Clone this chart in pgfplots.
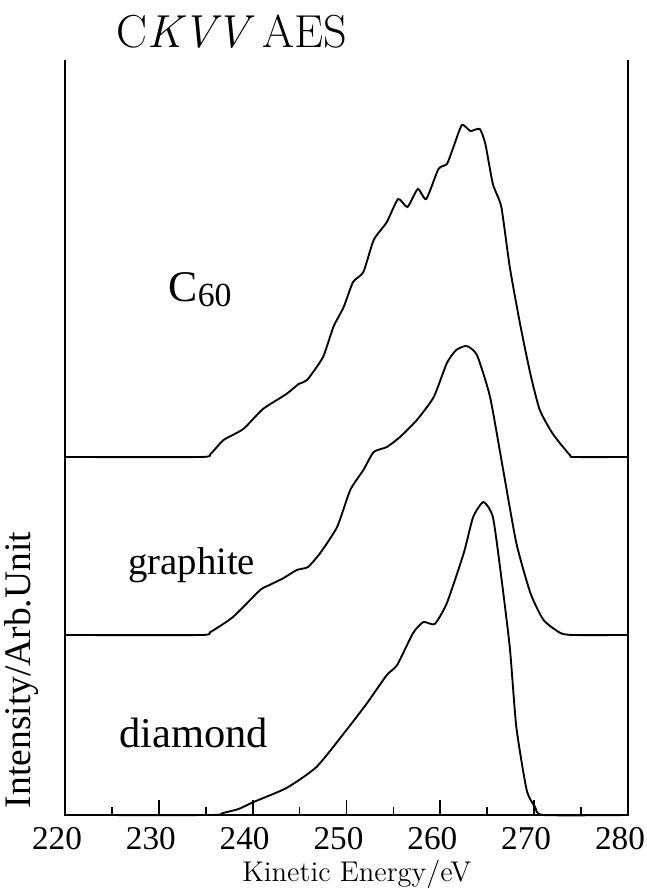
\documentclass[border=0pt]{standalone}
\usepackage{fontspec}
\usepackage{pgfplots}
\pgfplotsset{compat=1.18}
\newfontfamily\tms{Liberation Serif}
\begin{document}
\begin{tikzpicture}
\useasboundingbox (-26pt,-29.6pt) rectangle (232.8pt,326pt);
\begin{axis}[
  scale only axis, width=225.2pt, height=302pt,
  xmin=220, xmax=280, ymin=0, ymax=755,
  axis line style={draw=none},
  xtick={220,230,240,250,260,270,280},
  xticklabels={220,230,240,250,260,270,280},
  minor x tick num=1,
  ytick=\empty,
  xtick pos=bottom,
  tick align=inside,
  major tick length=6pt, minor tick length=3.2pt,
  tick style={line width=0.7pt, black},
  xticklabel style={font=\tms\fontsize{13.3}{13.3}\selectfont, yshift=-1.5pt, xshift=-3.2pt},
  clip=false,
]
\draw[line width=0.8pt] (rel axis cs:0,1) -- (rel axis cs:0,0) -- (rel axis cs:1,0) -- (rel axis cs:1,1);

% C60 (offset baseline 358)
\addplot[black, line width=0.75pt, smooth, tension=0.35] coordinates {
(220,358) (234.4,358) (235.5,361) (236.9,375) (239.0,386) (241.1,406) (243.6,421)
(244.9,431) (245.8,435) (247.5,458) (248.6,488) (249.7,508) (250.7,533) (251.8,543)
(252.9,575) (254.3,593) (255.5,616) (256.5,608) (257.6,626) (258.5,616) (259.8,646)
(260.7,651) (261.4,668) (262.3,690) (263.2,684) (264.2,686) (264.8,671) (265.6,631)
(266.5,608) (267.4,548) (268.5,491) (269.6,441) (270.6,405) (272.0,381) (273.8,360)
(274.3,358) (280,358)
};
% graphite (offset baseline 180)
\addplot[black, line width=0.75pt, smooth, tension=0.35] coordinates {
(220,180) (234.4,180) (235.5,183) (237.9,198) (240.8,225) (241.8,230) (243.3,237)
(244.7,245) (245.9,248) (247.2,262) (249.0,288) (250.4,325) (251.8,345) (252.9,363)
(254.3,368) (255.7,378) (257.5,395) (259.3,418) (260.7,452) (261.7,465) (262.8,469)
(263.9,460) (265.3,418) (266.7,345) (268.1,272) (269.6,222) (271.0,195) (272.8,182)
(274.2,180) (280,180)
};
% diamond
\addplot[black, line width=0.75pt, smooth, tension=0.35] coordinates {
(220,0) (235.5,0) (236.8,2) (238.5,6) (240.1,13) (243.6,27) (246.8,48) (250.0,85)
(252.2,112) (254.3,140) (255.4,150) (257.1,182) (258.2,193) (259.4,191) (260.7,212)
(262.5,262) (263.5,298) (264.6,313) (265.6,298) (266.4,245) (267.4,168) (268.1,88)
(269.2,25) (270.1,8) (271.0,0) (280,0)
};

\node[font=\fontsize{18.5}{18.5}\selectfont] at (axis cs:237.8,783) {C\textit{KVV}\,AES};
\node[font=\tms\fontsize{17.5}{17.5}\selectfont] at (axis cs:234.4,525) {C{\fontsize{13.5}{13.5}\selectfont\raisebox{-2pt}{60}}};
\node[font=\tms\fontsize{15.5}{15.5}\selectfont] at (axis cs:233.5,250) {graphite};
\node[font=\tms\fontsize{17}{17}\selectfont] at (axis cs:233.7,82) {diamond};
\node[font=\fontsize{11.4}{11.4}\selectfont] at (axis cs:251.1,-59) {Kinetic Energy/eV};
\node[font=\tms\fontsize{15}{15}\selectfont, rotate=90] at (axis cs:215.4,145) {Intensity/Arb.Unit};
\end{axis}
\end{tikzpicture}
\end{document}
